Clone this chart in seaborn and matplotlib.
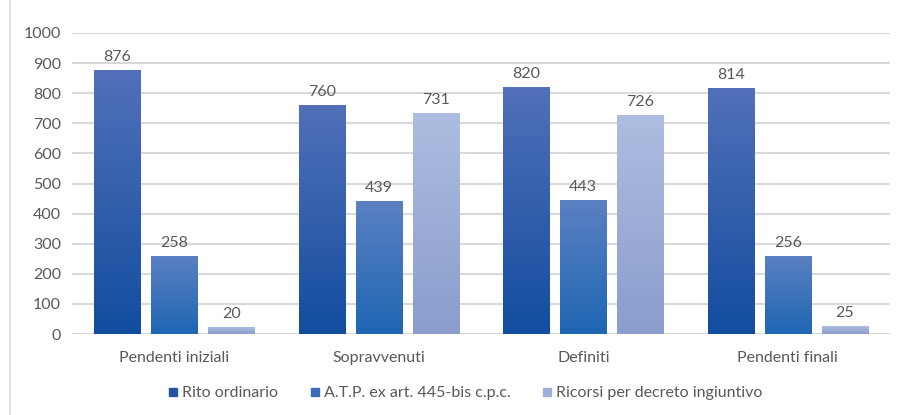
import numpy as np
import pandas as pd
import seaborn as sns
from matplotlib import pyplot as plt
from matplotlib.colors import LinearSegmentedColormap
from matplotlib.lines import Line2D
from matplotlib.patches import Rectangle

categories = ["Pendenti iniziali", "Sopravvenuti", "Definiti", "Pendenti finali"]
series = ["Rito ordinario", "A.T.P. ex art. 445-bis c.p.c.", "Ricorsi per decreto ingiuntivo"]
rito = [876, 760, 820, 814]
atp = [258, 439, 443, 256]
ricorsi = [20, 731, 726, 25]

# gradient colours (top, bottom) and legend swatch colours
grad_cols = [("#5170B9", "#134D9F"), ("#5A80C2", "#1F66B3"), ("#ADBDE1", "#8A9DCC")]
legend_cols = ["#2552A3", "#3A6DBA", "#A0B0DA"]
text_col = "#595959"

df = pd.DataFrame({
    "cat": categories * 3,
    "serie": [series[0]] * 4 + [series[1]] * 4 + [series[2]] * 4,
    "val": rito + atp + ricorsi,
})

sns.set_style("white")
plt.rcParams["font.family"] = ["Lato", "DejaVu Sans"]

fig = plt.figure(figsize=(9.04, 4.15), dpi=100)
ax = fig.add_axes([0.0796, 0.195, 0.905, 0.7255])
sns.barplot(data=df, x="cat", y="val", hue="serie", hue_order=series,
            palette=legend_cols, width=0.835, gap=0.19, legend=False, ax=ax, zorder=2)

ax.set_ylim(0, 1000)
xlim = ax.get_xlim()
grad = np.linspace(0, 1, 100).reshape(-1, 1)
for cont, (top, bot) in zip(ax.containers, grad_cols):
    cmap = LinearSegmentedColormap.from_list("g", [bot, top])
    for p in cont.patches:
        x, y, w, h = p.get_x(), p.get_y(), p.get_width(), p.get_height()
        ax.imshow(grad, extent=[x, x + w, 0, h], origin="lower", aspect="auto",
                  cmap=cmap, zorder=3)
        p.set_alpha(0)
        ax.text(x + w / 2, h + 22, str(int(h)), ha="center", va="bottom",
                fontsize=11.5, color=text_col, zorder=4)
ax.set_xlim(xlim)
ax.set_ylim(0, 1000)

ax.set_yticks(range(0, 1001, 100))
ax.yaxis.grid(True, color="#D9D9D9", linewidth=1.5)
ax.set_axisbelow(True)
sns.despine(ax=ax, left=True, bottom=True)
ax.tick_params(length=0, labelsize=11.5, colors=text_col, pad=8)
ax.tick_params(axis="x", pad=12)
ax.set_xlabel("")
ax.set_ylabel("")

handles = [Line2D([], [], marker="s", linestyle="", markersize=6, color=c) for c in legend_cols]
fig.legend(handles, series, loc="center", bbox_to_anchor=(0.515, 0.053), ncol=3,
           frameon=False, fontsize=11.5, labelcolor=text_col, handlelength=0.6,
           handletextpad=0.25, columnspacing=2.0)

fig.patches.append(Rectangle((0.011, -0.01), 1.0, 1.02, transform=fig.transFigure,
                             fill=False, edgecolor="#D9D9D9", linewidth=1.2))

fig.savefig("out.png", dpi=100)
